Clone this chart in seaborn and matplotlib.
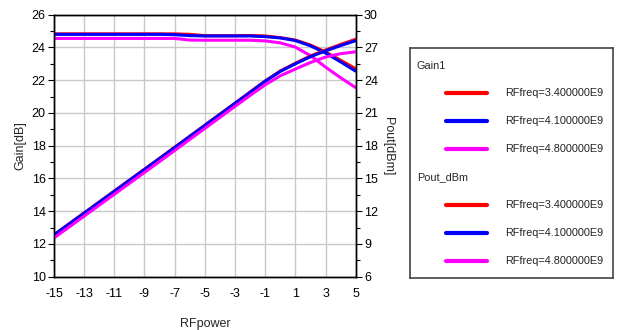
import numpy as np
import pandas as pd
import matplotlib
matplotlib.use('Agg')
import matplotlib.pyplot as plt
import seaborn as sns

# data (ADS sweep)
rf_power = list(range(-15, 6))
freqs = ['RFfreq=3.400000E9', 'RFfreq=4.100000E9', 'RFfreq=4.800000E9']
colors = ['#ff0000', '#0000ff', '#ff00ff']

gain_34 = [24.83, 24.83, 24.83, 24.83, 24.83, 24.83, 24.83, 24.83, 24.83, 24.80, 24.72,
           24.72, 24.72, 24.73, 24.70, 24.60, 24.45, 24.15, 23.72, 23.22, 22.70]
gain_41 = [24.80, 24.80, 24.80, 24.80, 24.80, 24.80, 24.80, 24.80, 24.78, 24.72, 24.70,
           24.70, 24.70, 24.70, 24.66, 24.58, 24.42, 24.10, 23.66, 23.12, 22.55]
gain_48 = [24.55, 24.55, 24.55, 24.55, 24.55, 24.55, 24.55, 24.55, 24.55, 24.45, 24.44,
           24.44, 24.44, 24.44, 24.40, 24.28, 24.02, 23.50, 22.80, 22.15, 21.55]

pout_34 = [9.85, 10.85, 11.85, 12.85, 13.85, 14.85, 15.85, 16.85, 17.86, 18.87, 19.88,
           20.89, 21.90, 22.92, 23.93, 24.84, 25.55, 26.22, 26.76, 27.27, 27.75]
pout_41 = [9.82, 10.82, 11.82, 12.82, 13.82, 14.82, 15.82, 16.82, 17.83, 18.84, 19.85,
           20.86, 21.87, 22.88, 23.90, 24.80, 25.50, 26.15, 26.68, 27.17, 27.62]
pout_48 = [9.55, 10.55, 11.55, 12.55, 13.55, 14.55, 15.55, 16.55, 17.56, 18.57, 19.58,
           20.59, 21.60, 22.60, 23.58, 24.40, 25.02, 25.62, 26.12, 26.43, 26.60]

gain_df = pd.DataFrame({
    'RFpower': rf_power * 3,
    'Gain1': gain_34 + gain_41 + gain_48,
    'freq': [f for f in freqs for _ in rf_power],
})
pout_df = pd.DataFrame({
    'RFpower': rf_power * 3,
    'Pout_dBm': pout_34 + pout_41 + pout_48,
    'freq': [f for f in freqs for _ in rf_power],
})
palette = dict(zip(freqs, colors))

sns.set_style('white')
plt.rcParams['font.family'] = ['Liberation Sans', 'DejaVu Sans']
plt.rcParams['axes.unicode_minus'] = False

fig = plt.figure(figsize=(6.19, 3.30), dpi=100)
ax = fig.add_axes([0.0872, 0.1615, 0.4874, 0.794])
ax2 = ax.twinx()

sns.lineplot(data=gain_df, x='RFpower', y='Gain1', hue='freq', palette=palette,
             hue_order=freqs, linewidth=2.2, legend=False, ax=ax)
sns.lineplot(data=pout_df, x='RFpower', y='Pout_dBm', hue='freq', palette=palette,
             hue_order=freqs, linewidth=2.2, legend=False, ax=ax2)

ax.set_xlim(-15, 5)
ax.set_ylim(10, 26)
ax2.set_ylim(6, 30)
ax.set_xticks(range(-15, 6, 2))
ax.set_xticks(range(-15, 6), minor=True)
ax.set_yticks(range(10, 27, 2))
ax.set_yticks(range(11, 26, 2), minor=True)
ax2.set_yticks(range(6, 31, 3))
ax2.set_yticks(np.arange(7.5, 30, 3), minor=True)

ax.grid(True, which='major', color='#c8c8c8', linewidth=1)
ax2.grid(False)
ax.set_axisbelow(True)

for a in (ax, ax2):
    for s in a.spines.values():
        s.set_color('black')
        s.set_linewidth(1)
    a.tick_params(which='both', direction='out', colors='black', labelsize=9, width=0.8)
    a.tick_params(which='major', length=4.5, pad=1.5)
    a.tick_params(which='minor', length=3)
ax.tick_params(axis='x', which='major', length=5.5, pad=2.5)
ax.tick_params(axis='x', which='minor', length=4)
ax.tick_params(axis='y', which='both', left=True, right=False)
ax2.tick_params(axis='y', which='both', right=True, left=False)

ax.set_xlabel('RFpower', fontsize=9, labelpad=13)
ax.set_ylabel('Gain[dB]', fontsize=9, labelpad=4)
ax2.set_ylabel('Pout[dBm]', fontsize=9, rotation=270, va='bottom', labelpad=3)

# legend box drawn like the ADS legend
lg = fig.add_axes([0.6624, 0.1576, 0.328, 0.697])
lg.set_xlim(0, 1)
lg.set_ylim(0, 1)
lg.set_xticks([])
lg.set_yticks([])
for s in lg.spines.values():
    s.set_color('#444444')
    s.set_linewidth(1.2)

groups = [('Gain1', 0.922, [0.803, 0.683, 0.561]),
          ('Pout_dBm', 0.44, [0.317, 0.194, 0.074])]
for title, ty, rows in groups:
    lg.text(0.034, ty, title, fontsize=7.8, va='center', ha='left')
    for f, c, y in zip(freqs, colors, rows):
        lg.plot([0.176, 0.378], [y, y], color=c, linewidth=3)
        lg.text(0.468, y, f, fontsize=7.8, va='center', ha='left', color='#222222')

fig.savefig('out.png', dpi=100)
